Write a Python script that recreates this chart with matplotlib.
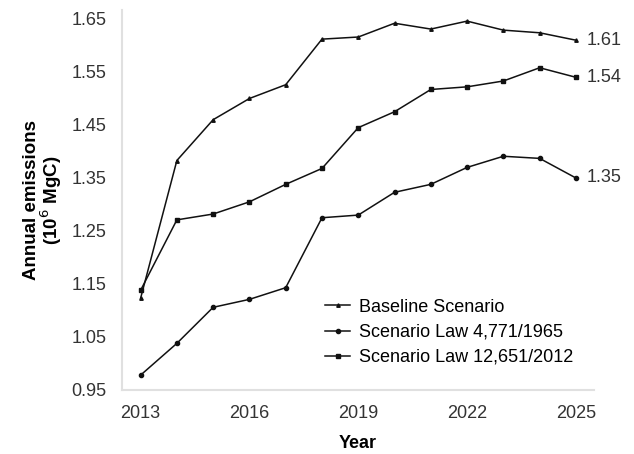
import matplotlib
matplotlib.use("Agg")
import matplotlib.pyplot as plt

plt.rcParams['font.family'] = ['Liberation Sans', 'DejaVu Sans']

years = list(range(2013, 2026))
baseline = [1.123, 1.383, 1.460, 1.500, 1.526, 1.612, 1.616, 1.642, 1.631, 1.646, 1.629, 1.624, 1.61]
law_4771 = [0.978, 1.038, 1.106, 1.121, 1.143, 1.275, 1.280, 1.323, 1.338, 1.370, 1.391, 1.387, 1.35]
law_12651 = [1.138, 1.271, 1.282, 1.305, 1.338, 1.368, 1.445, 1.475, 1.517, 1.522, 1.533, 1.558, 1.54]
yticks = [0.95, 1.05, 1.15, 1.25, 1.35, 1.45, 1.55, 1.65]
xticks = [2013, 2016, 2019, 2022, 2025]

FS = 13

fig = plt.figure(figsize=(6.34, 4.54), dpi=100)
ax = fig.add_axes([0.192, 0.141, 0.745, 0.837])

ax.plot(years, baseline, "-", color="#111111", lw=1.1, marker="^", ms=2.5, label="Baseline Scenario")
ax.plot(years, law_4771, "-", color="#111111", lw=1.1, marker="o", ms=3, label="Scenario Law 4,771/1965")
ax.plot(years, law_12651, "-", color="#111111", lw=1.1, marker="s", ms=3.5, label="Scenario Law 12,651/2012")

# end-of-series values
for series in (baseline, law_12651, law_4771):
    ax.text(years[-1] + 0.3, series[-1], f"{series[-1]:.2f}", fontsize=FS,
            color="#333333", va="center", ha="left", clip_on=False)

ax.set_xlim(2012.48, 2025.5)
ax.set_ylim(0.95, 1.667)
ax.set_xticks(xticks)
ax.set_yticks(yticks)
ax.set_yticklabels([f"{v:.2f}" for v in yticks])
ax.tick_params(axis="y", length=0, labelsize=FS, colors="#333333", pad=11)
ax.tick_params(axis="x", length=0, labelsize=FS, colors="#333333", pad=11)

for s in ("top", "right"):
    ax.spines[s].set_visible(False)
for s in ("left", "bottom"):
    ax.spines[s].set_color("#e0e0e0")
    ax.spines[s].set_linewidth(1.5)

ax.set_xlabel("Year", fontsize=FS, fontweight="bold", labelpad=9)
ax.set_ylabel("Annual emissions\n(10$^6$ MgC)", fontsize=13.5, fontweight="bold",
              labelpad=5, linespacing=0.95)

ax.legend(loc="lower left", bbox_to_anchor=(0.404, 0.03), frameon=False, fontsize=FS,
          handlelength=1.4, handletextpad=0.5, labelspacing=0.45, borderpad=0.2)

fig.savefig("out.png", dpi=100)
